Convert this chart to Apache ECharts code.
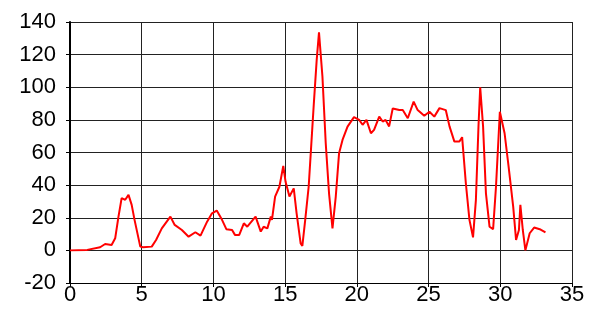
<!DOCTYPE html>
<html>
<head>
<meta charset="utf-8">
<script src="https://cdn.jsdelivr.net/npm/echarts@6/dist/echarts.min.js"></script>
<style>
  html, body { margin: 0; padding: 0; background: #fff; }
  #main { width: 591px; height: 317px; }
</style>
</head>
<body>
<div id="main"></div>
<script>
// x positions and values
var xs = [0, 1.2, 2.1, 2.45, 2.9, 3.15, 3.38, 3.6, 3.85, 4.08, 4.3, 4.5, 4.9, 5.1, 5.7, 6.0, 6.4, 7.0, 7.3, 7.8,
  8.27, 8.74, 9.1, 9.56, 9.9, 10.23, 10.6, 10.9, 11.3, 11.5, 11.8, 12.12, 12.36, 12.94, 13.3, 13.5, 13.76, 14.0, 14.08, 14.3,
  14.6, 14.87, 15.03, 15.3, 15.6, 15.8, 16.08, 16.2, 16.4, 16.64, 16.8, 17.0, 17.2, 17.36, 17.6, 17.83, 18.06, 18.3, 18.53, 18.76,
  19.0, 19.35, 19.8, 20.16, 20.4, 20.67, 20.98, 21.2, 21.56, 21.8, 22.0, 22.25, 22.5, 22.96, 23.2, 23.55, 23.96, 24.24, 24.7, 25.06,
  25.4, 25.76, 26.2, 26.46, 26.8, 27.15, 27.34, 27.6, 27.85, 28.1, 28.3, 28.48, 28.6, 28.8, 29.0, 29.25, 29.5, 29.7, 29.97, 30.3,
  30.58, 30.9, 31.1, 31.3, 31.4, 31.57, 31.75, 32.05, 32.36, 32.75, 33.15];
var ys = [0, 0.3, 1.9, 3.9, 3.3, 7.4, 20.7, 32, 31, 34, 27.9, 18.7, 2.3, 1.9, 2.3, 6.4, 13.5, 20.7, 15.6, 12.5,
  8.4, 11.1, 9, 17.6, 22.7, 24.4, 18.7, 13, 12.5, 9.5, 9.5, 16.6, 14.5, 20.7, 11.5, 14.5, 13.5, 20.7, 18.7, 33,
  39, 51.8, 42, 33, 38, 22.7, 4.3, 2.7, 18.7, 39, 61.6, 90, 116.8, 133.6, 106.6, 65.7, 35, 13.5, 33, 59.6,
  67.7, 75.9, 81.7, 80, 77, 80, 71.8, 73.9, 82, 79, 80, 76, 87, 86, 86, 81, 91.2, 86, 82.5, 85,
  82, 87.2, 86, 76, 66.7, 66.7, 69.4, 41, 18.7, 8, 31, 76, 100, 76, 35, 14.5, 13, 39, 85, 71.8,
  51.4, 26.8, 6.4, 12.5, 27.9, 12.5, 0, 10.5, 14, 13, 11];

var pts = xs.map(function (x, i) { return [x, ys[i]]; });

var chart = echarts.init(document.getElementById('main'));
var lab = { color: '#000', fontSize: 22, fontFamily: 'Liberation Sans, Arial, sans-serif' };

var option = {
  animation: false,
  grid: { left: 70, right: 19, top: 22, bottom: 34, containLabel: false },
  xAxis: {
    type: 'value', min: 0, max: 35, interval: 5,
    axisLine: { show: true, onZero: false, lineStyle: { color: '#000', width: 1 } },
    axisTick: { show: true, length: 4, lineStyle: { color: '#000' } },
    axisLabel: Object.assign({ margin: 1 }, lab),
    splitLine: { show: true, lineStyle: { color: '#222', width: 1 } }
  },
  yAxis: {
    type: 'value', min: -20, max: 140, interval: 20,
    axisLine: { show: true, onZero: false, lineStyle: { color: '#000', width: 2 } },
    axisTick: { show: true, length: 4, lineStyle: { color: '#000' } },
    axisLabel: Object.assign({ margin: 14 }, lab),
    splitLine: { show: true, lineStyle: { color: '#222', width: 1 } }
  },
  series: [{
    type: 'line',
    data: pts,
    showSymbol: false,
    lineStyle: { color: '#ff0000', width: 2 },
    itemStyle: { color: '#ff0000' }
  }]
};
chart.setOption(option);
</script>
</body>
</html>
